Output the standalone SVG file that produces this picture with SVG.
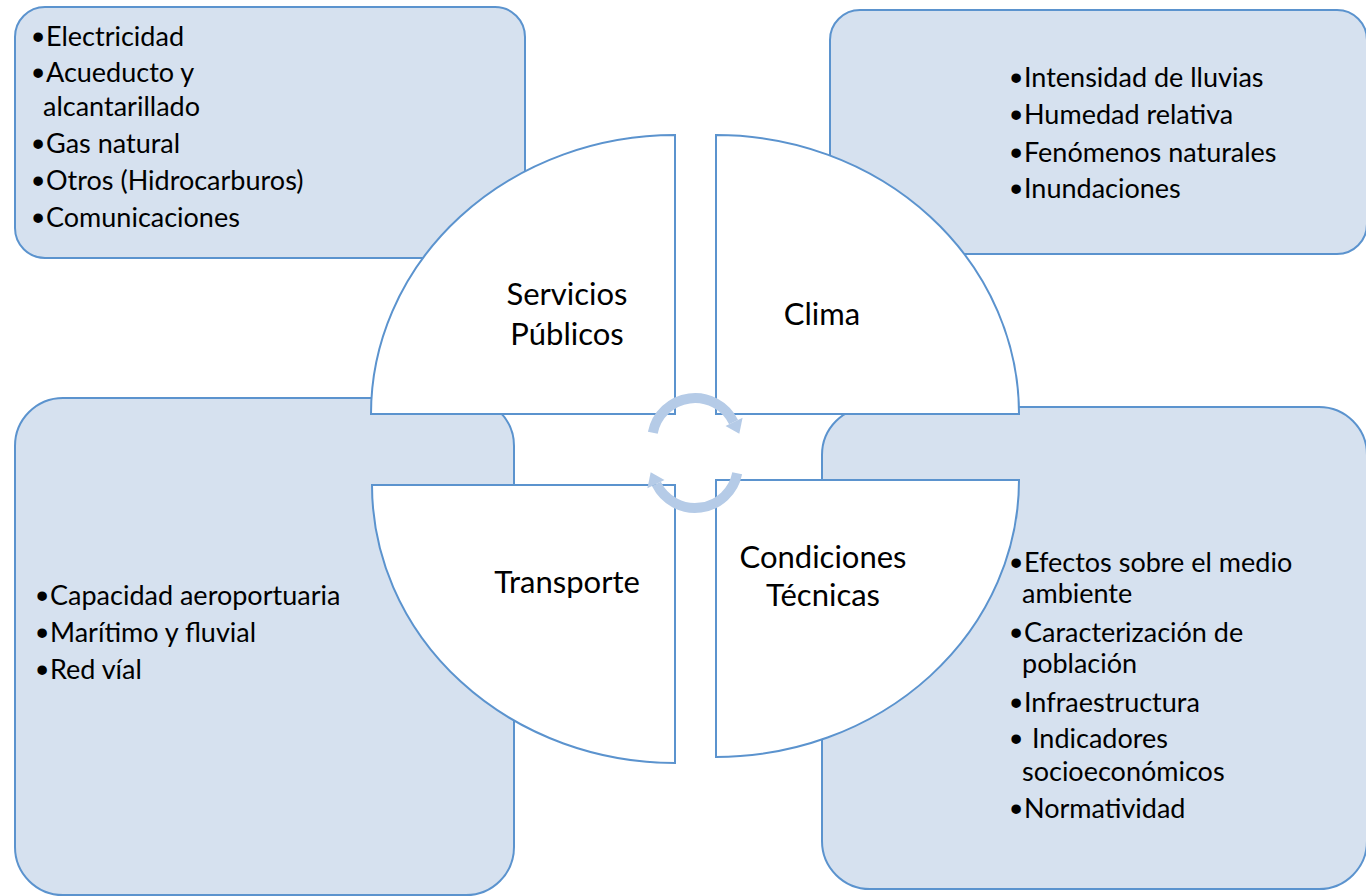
<svg xmlns="http://www.w3.org/2000/svg" width="1366" height="896" viewBox="0 0 1366 896">
  <style>
    .box { fill: #D6E1EF; stroke: #5B93CE; stroke-width: 2; }
    .seg { fill: #FFFFFF; stroke: #5B93CE; stroke-width: 2; }
    .item { font-family: Lato, "Liberation Sans", sans-serif; font-size: 27px; fill: #000000; }
    .b { font-family: "Liberation Sans", sans-serif; font-size: 35px; }
    .label { font-family: Lato, "Liberation Sans", sans-serif; font-size: 31px; fill: #000000; text-anchor: middle; }
    .arc { fill: none; stroke: #B5CBE7; stroke-width: 10; }
    .head { fill: #B5CBE7; }
  </style>
  <defs>
    <g id="cycleArrow">
      <path class="arc" d="M652.8,432.8 A43,43 0 0 1 733.6,422.1"/>
      <polygon class="head" points="742.6,417.7 739.3,433.8 725.5,426"/>
    </g>
  </defs>
  <rect width="1366" height="896" fill="#FFFFFF"/>

  <g id="box-servicios">
    <rect class="box" x="15" y="7" width="510" height="251" rx="30" ry="30"/>
    <text class="item" y="46"><tspan class="b" x="32" dy="3">•</tspan><tspan x="46" dy="-3">Electricidad</tspan></text>
    <text class="item" y="82"><tspan class="b" x="32" dy="3">•</tspan><tspan x="46" dy="-3">Acueducto y</tspan></text>
    <text class="item" y="116" x="43">alcantarillado</text>
    <text class="item" y="153"><tspan class="b" x="32" dy="3">•</tspan><tspan x="46" dy="-3">Gas natural</tspan></text>
    <text class="item" y="190"><tspan class="b" x="32" dy="3">•</tspan><tspan x="46" dy="-3">Otros (Hidrocarburos)</tspan></text>
    <text class="item" y="227"><tspan class="b" x="32" dy="3">•</tspan><tspan x="46" dy="-3">Comunicaciones</tspan></text>
  </g>

  <g id="box-clima">
    <rect class="box" x="830" y="10" width="537" height="244" rx="30" ry="30"/>
    <text class="item" y="87"><tspan class="b" x="1010" dy="3">•</tspan><tspan x="1024" dy="-3">Intensidad de lluvias</tspan></text>
    <text class="item" y="124"><tspan class="b" x="1010" dy="3">•</tspan><tspan x="1024" dy="-3">Humedad relativa</tspan></text>
    <text class="item" y="162"><tspan class="b" x="1010" dy="3">•</tspan><tspan x="1024" dy="-3">Fenómenos naturales</tspan></text>
    <text class="item" y="198"><tspan class="b" x="1010" dy="3">•</tspan><tspan x="1024" dy="-3">Inundaciones</tspan></text>
  </g>

  <g id="box-transporte">
    <rect class="box" x="15" y="398" width="499" height="497" rx="48" ry="48"/>
    <text class="item" y="605"><tspan class="b" x="36" dy="3">•</tspan><tspan x="50" dy="-3">Capacidad aeroportuaria</tspan></text>
    <text class="item" y="642"><tspan class="b" x="36" dy="3">•</tspan><tspan x="50" dy="-3">Marítimo y fluvial</tspan></text>
    <text class="item" y="679"><tspan class="b" x="36" dy="3">•</tspan><tspan x="50" dy="-3">Red víal</tspan></text>
  </g>

  <g id="box-condiciones">
    <rect class="box" x="822" y="407" width="545" height="482" rx="48" ry="48"/>
    <text class="item" y="572"><tspan class="b" x="1010" dy="3">•</tspan><tspan x="1024" dy="-3">Efectos sobre el medio</tspan></text>
    <text class="item" y="603" x="1022">ambiente</text>
    <text class="item" y="642"><tspan class="b" x="1010" dy="3">•</tspan><tspan x="1024" dy="-3">Caracterización de</tspan></text>
    <text class="item" y="673" x="1022">población</text>
    <text class="item" y="712"><tspan class="b" x="1010" dy="3">•</tspan><tspan x="1024" dy="-3">Infraestructura</tspan></text>
    <text class="item" y="748"><tspan class="b" x="1010" dy="3">•</tspan><tspan x="1032" dy="-3">Indicadores</tspan></text>
    <text class="item" y="781" x="1022">socioeconómicos</text>
    <text class="item" y="818"><tspan class="b" x="1010" dy="3">•</tspan><tspan x="1024" dy="-3">Normatividad</tspan></text>
  </g>

  <g id="seg-servicios">
    <path class="seg" d="M675,414 L371,414 A304,279 0 0 1 675,135 Z"/>
    <text class="label" x="567" y="305">Servicios</text>
    <text class="label" x="567" y="345">Públicos</text>
  </g>

  <g id="seg-clima">
    <path class="seg" d="M716,414 L716,135 A303,279 0 0 1 1019,414 Z"/>
    <text class="label" x="822" y="325">Clima</text>
  </g>

  <g id="seg-transporte">
    <path class="seg" d="M675,485 L372,485 A303,278 0 0 0 675,763 Z"/>
    <text class="label" x="567" y="593">Transporte</text>
  </g>

  <g id="seg-condiciones">
    <path class="seg" d="M716,480 L1019,480 A303,277 0 0 1 716,757 Z"/>
    <text class="label" x="823" y="568">Condiciones</text>
    <text class="label" x="823" y="606">Técnicas</text>
  </g>

  <g id="connectors">
    <use href="#cycleArrow"/>
    <use href="#cycleArrow" transform="rotate(180 695 453)"/>
  </g>
</svg>
